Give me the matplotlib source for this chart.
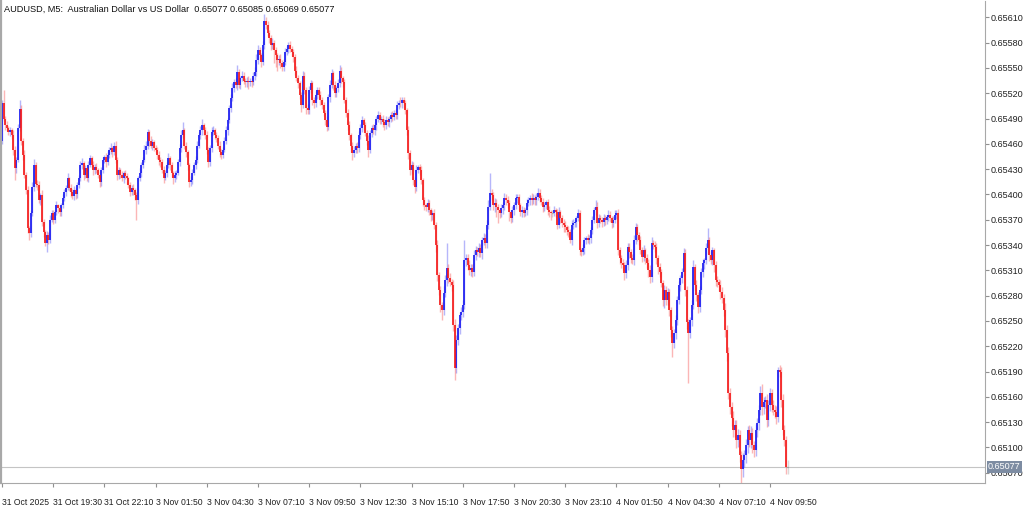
import numpy as np
import matplotlib.pyplot as plt

plt.rcParams['font.family'] = ['Liberation Sans', 'DejaVu Sans']

title = "AUDUSD, M5:  Australian Dollar vs US Dollar  0.65077 0.65085 0.65069 0.65077"

# prices are stored as points above 0.65000 (1 point = 0.00001)
base = 0.65
first_open = 464
closes = [
    508, 490, 482, 479, 474, 476, 470, 453, 431, 441, 479, 501, 464, 447, 423, 405, 360, 354, 378, 409, 435, 413, 411, 393, 399, 367, 355, 342, 352, 346, 370, 378,
    370, 379, 387, 384, 379, 387, 396, 403, 408, 419, 408, 403, 398, 405, 400, 411, 420, 435, 437, 423, 431, 420, 435, 443, 435, 429, 433, 429, 423, 415, 429, 441,
    444, 438, 447, 453, 455, 450, 458, 441, 423, 429, 423, 419, 425, 422, 419, 411, 403, 408, 405, 399, 393, 419, 426, 435, 441, 453, 458, 474, 464, 458, 462, 455,
    453, 447, 441, 438, 429, 420, 426, 435, 443, 435, 426, 419, 423, 426, 438, 455, 470, 476, 458, 450, 435, 415, 417, 426, 435, 441, 458, 470, 476, 482, 476, 470,
    453, 438, 455, 474, 476, 470, 467, 458, 450, 447, 453, 464, 476, 488, 502, 514, 526, 533, 530, 545, 530, 538, 541, 535, 533, 535, 533, 535, 533, 540, 545, 559,
    571, 565, 557, 577, 606, 601, 592, 585, 577, 580, 571, 565, 559, 561, 556, 551, 557, 569, 573, 577, 573, 569, 563, 547, 538, 532, 518, 506, 541, 524, 502, 500,
    524, 532, 512, 508, 518, 524, 518, 512, 506, 497, 488, 480, 515, 530, 544, 530, 520, 526, 532, 547, 538, 533, 512, 497, 482, 470, 458, 449, 453, 458, 455, 470,
    479, 488, 482, 473, 464, 453, 473, 479, 476, 482, 490, 494, 488, 490, 486, 482, 488, 486, 490, 494, 492, 497, 494, 506, 509, 508, 512, 508, 500, 476, 449, 429,
    435, 417, 409, 429, 432, 429, 417, 393, 387, 385, 390, 381, 376, 378, 364, 340, 304, 287, 269, 263, 283, 299, 313, 301, 296, 293, 245, 194, 227, 242, 257, 261,
    269, 322, 325, 316, 310, 313, 308, 328, 334, 332, 336, 331, 346, 348, 342, 364, 385, 402, 399, 387, 390, 385, 381, 378, 384, 387, 396, 393, 390, 379, 372, 381,
    387, 396, 397, 387, 379, 381, 378, 381, 390, 393, 396, 393, 396, 393, 397, 402, 396, 391, 385, 387, 391, 381, 379, 378, 378, 381, 379, 364, 379, 372, 366, 364,
    361, 358, 355, 346, 364, 366, 367, 372, 378, 334, 332, 336, 346, 348, 346, 348, 358, 370, 381, 385, 366, 372, 370, 367, 372, 370, 373, 376, 372, 366, 370, 376,
    378, 334, 325, 319, 316, 307, 316, 338, 332, 325, 322, 346, 361, 352, 346, 334, 326, 334, 325, 319, 310, 302, 342, 340, 338, 325, 314, 308, 295, 275, 287, 275,
    284, 263, 239, 224, 236, 251, 275, 293, 301, 308, 331, 287, 249, 236, 251, 269, 314, 293, 281, 267, 287, 308, 319, 322, 336, 346, 328, 322, 334, 316, 299, 296,
    293, 284, 277, 263, 239, 212, 165, 148, 135, 121, 127, 109, 115, 91, 74, 85, 91, 103, 121, 109, 117, 103, 97, 121, 129, 145, 165, 148, 154, 156, 133, 150,
    165, 150, 145, 142, 136, 192, 190, 156, 121, 109, 77, 77,
]
wick_up = [
    4, 16, 3, 5, 2, 4, 3, 6, 5, 3, 4, 11, 5, 3, 6, 4, 5, 3, 4, 6, 7, 3, 4, 5, 3, 6, 4, 3, 5, 4, 6, 3,
    4, 3, 5, 2, 4, 3, 5, 4, 3, 6, 2, 4, 3, 5, 3, 4, 3, 5, 6, 3, 4, 2, 5, 4, 3, 5, 3, 4, 2, 5, 3, 4,
    3, 5, 4, 3, 6, 3, 4, 5, 3, 4, 2, 5, 3, 4, 3, 2, 4, 3, 5, 3, 4, 3, 5, 4, 3, 6, 5, 4, 3, 5, 4, 3,
    4, 3, 5, 3, 4, 5, 3, 4, 6, 3, 4, 2, 5, 3, 4, 5, 6, 10, 3, 4, 3, 2, 5, 4, 3, 5, 6, 4, 5, 8, 3, 4,
    5, 3, 4, 6, 5, 3, 4, 3, 5, 4, 3, 4, 5, 3, 4, 5, 6, 4, 5, 8, 4, 3, 5, 4, 3, 4, 5, 3, 4, 5, 6, 7,
    6, 4, 3, 5, 8, 4, 5, 3, 4, 5, 3, 4, 3, 4, 5, 3, 4, 5, 3, 4, 5, 3, 4, 3, 5, 4, 3, 4, 6, 4, 3, 5,
    5, 4, 3, 4, 5, 3, 4, 5, 3, 4, 3, 5, 4, 6, 5, 3, 4, 3, 5, 6, 4, 3, 4, 3, 4, 5, 3, 4, 5, 3, 4, 5,
    4, 5, 3, 4, 3, 6, 4, 3, 5, 4, 3, 5, 4, 3, 4, 3, 5, 4, 3, 4, 5, 3, 4, 5, 3, 6, 4, 3, 4, 3, 5, 4,
    5, 3, 4, 6, 3, 4, 5, 3, 4, 3, 5, 4, 3, 4, 5, 3, 6, 4, 5, 3, 8, 6, 30, 5, 6, 4, 5, 7, 6, 5, 4, 6,
    6, 24, 5, 4, 6, 5, 4, 6, 5, 4, 6, 5, 4, 6, 5, 6, 8, 24, 5, 4, 6, 5, 4, 3, 5, 4, 6, 4, 5, 4, 3, 5,
    4, 5, 3, 4, 3, 5, 4, 3, 5, 4, 3, 6, 4, 3, 5, 6, 4, 3, 5, 4, 3, 4, 5, 3, 4, 5, 3, 4, 6, 3, 4, 5,
    4, 3, 5, 4, 6, 5, 4, 3, 5, 4, 3, 5, 4, 3, 5, 4, 3, 5, 4, 8, 6, 5, 4, 3, 5, 4, 3, 5, 4, 3, 4, 5,
    4, 5, 4, 3, 5, 4, 6, 5, 4, 3, 5, 6, 5, 4, 3, 5, 4, 6, 3, 4, 5, 6, 8, 4, 5, 4, 3, 5, 4, 3, 6, 4,
    5, 4, 3, 5, 4, 6, 5, 4, 3, 5, 6, 4, 5, 3, 4, 6, 8, 4, 5, 3, 4, 5, 4, 3, 6, 14, 4, 5, 4, 3, 5, 4,
    4, 5, 6, 5, 8, 6, 7, 5, 6, 8, 6, 5, 7, 6, 5, 8, 6, 7, 5, 6, 8, 6, 5, 7, 6, 5, 8, 10, 6, 5, 7, 6,
    5, 4, 6, 5, 7, 4, 6, 5, 8, 6, 5, 8,
]
wick_dn = [
    4, 3, 5, 4, 3, 5, 4, 6, 14, 5, 3, 4, 5, 6, 4, 5, 6, 8, 4, 3, 5, 4, 6, 3, 5, 4, 6, 3, 10, 5, 4, 3,
    5, 4, 3, 6, 4, 5, 3, 4, 5, 3, 4, 6, 3, 4, 5, 4, 3, 4, 5, 6, 3, 4, 5, 3, 4, 6, 5, 3, 4, 6, 5, 3,
    4, 5, 3, 4, 5, 6, 3, 4, 6, 5, 4, 3, 5, 4, 6, 3, 5, 4, 6, 5, 23, 4, 3, 5, 4, 3, 5, 4, 6, 3, 5, 4,
    4, 5, 6, 5, 4, 6, 3, 5, 4, 6, 5, 7, 4, 5, 3, 4, 5, 3, 4, 5, 6, 6, 5, 4, 3, 5, 4, 3, 4, 5, 6, 4,
    5, 6, 4, 5, 3, 4, 5, 4, 6, 5, 4, 3, 4, 5, 3, 4, 3, 5, 4, 6, 4, 5, 3, 4, 6, 5, 8, 4, 5, 3, 4, 5,
    4, 5, 6, 3, 4, 5, 4, 5, 6, 5, 15, 14, 12, 5, 6, 4, 5, 3, 4, 5, 4, 5, 6, 5, 4, 6, 5, 8, 4, 5, 6, 4,
    5, 4, 6, 5, 4, 5, 4, 6, 5, 4, 6, 5, 4, 5, 4, 6, 5, 4, 5, 4, 6, 5, 4, 5, 6, 5, 8, 8, 5, 4, 6, 5,
    4, 5, 6, 4, 5, 8, 4, 5, 4, 6, 5, 4, 5, 4, 6, 5, 4, 5, 6, 4, 5, 4, 5, 4, 5, 4, 6, 5, 4, 6, 7, 6,
    5, 6, 7, 5, 4, 6, 5, 7, 6, 5, 6, 5, 7, 6, 5, 8, 7, 6, 8, 12, 6, 5, 7, 6, 5, 8, 7, 14, 6, 5, 7, 6,
    6, 5, 7, 6, 5, 7, 6, 5, 6, 5, 6, 5, 7, 6, 5, 6, 5, 4, 6, 5, 8, 12, 15, 6, 5, 7, 6, 5, 6, 10, 6, 5,
    5, 4, 6, 5, 4, 6, 5, 4, 5, 4, 6, 5, 4, 5, 6, 4, 5, 4, 6, 5, 4, 5, 6, 8, 5, 4, 6, 5, 4, 6, 5, 8,
    5, 6, 5, 4, 6, 5, 4, 5, 4, 6, 5, 4, 6, 5, 4, 5, 6, 5, 4, 5, 6, 5, 4, 5, 4, 6, 5, 4, 5, 6, 5, 4,
    5, 6, 7, 6, 5, 8, 6, 5, 7, 6, 5, 6, 5, 7, 6, 5, 6, 5, 7, 6, 8, 7, 6, 5, 6, 7, 8, 6, 5, 7, 10, 6,
    6, 7, 8, 17, 6, 7, 6, 5, 7, 6, 5, 7, 8, 59, 6, 7, 5, 6, 7, 8, 6, 5, 6, 7, 5, 6, 7, 5, 6, 8, 7, 6,
    7, 8, 6, 7, 8, 9, 7, 8, 10, 9, 8, 10, 9, 8, 21, 9, 8, 10, 9, 8, 10, 9, 8, 7, 9, 8, 7, 9, 8, 7, 9, 8,
    7, 8, 6, 7, 8, 6, 7, 8, 6, 7, 8, 8,
]
x_labels = ['31 Oct 2025', '31 Oct 19:30', '31 Oct 22:10', '3 Nov 01:50', '3 Nov 04:30',
            '3 Nov 07:10', '3 Nov 09:50', '3 Nov 12:30', '3 Nov 15:10', '3 Nov 17:50',
            '3 Nov 20:30', '3 Nov 23:10', '4 Nov 01:50', '4 Nov 04:30', '4 Nov 07:10',
            '4 Nov 09:50']
bars_per_label = 32
y_ticks = [0.65070, 0.65100, 0.65130, 0.65160, 0.65190, 0.65220, 0.65250, 0.65280,
           0.65310, 0.65340, 0.65370, 0.65400, 0.65430, 0.65460, 0.65490, 0.65520,
           0.65550, 0.65580, 0.65610]
last_price = 0.65077

c = np.array(closes)
o = np.r_[first_open, c[:-1]]
hi = (np.maximum(o, c) + np.array(wick_up)) / 1e5 + base
lo = (np.minimum(o, c) - np.array(wick_dn)) / 1e5 + base
cp = c / 1e5 + base
op = o / 1e5 + base
idx = np.arange(len(c))

bull = c > o
bear = c < o
flat = c == o
blue = '#1c1cf0'
red = '#f41c1c'
gray = '#8c8c8c'

fig = plt.figure(figsize=(10.24, 5.11), dpi=100)
ax = fig.add_axes([0.001, 0.055, 0.961, 0.944])

for m, col in [(bull, blue), (bear, red), (flat, gray)]:
    ax.vlines(idx[m], lo[m], hi[m], color=col, alpha=0.32, lw=1.0)
for m, col in [(bull, blue), (bear, red)]:
    ax.vlines(idx[m], op[m], cp[m], color=col, lw=1.25)
ax.hlines(cp[flat], idx[flat] - 0.35, idx[flat] + 0.35, color=gray, lw=0.9)

ax.axhline(last_price, color='#c4c4c4', lw=0.8, zorder=0)

ax.set_xlim(-0.625, 614.4)
ax.set_ylim(0.65058, 0.65630)

ax.set_xticks([k * bars_per_label for k in range(len(x_labels))])
ax.set_xticklabels(x_labels, ha='left')
ax.tick_params(axis='x', length=3, pad=8, labelsize=6.2, color='#909090', labelcolor='#202020')
for lab in ax.get_xticklabels():
    lab.set_x(lab.get_position()[0])

ax.yaxis.tick_right()
ax.set_yticks(y_ticks)
ax.set_yticklabels([f'{v:.5f}' for v in y_ticks])
ax.tick_params(axis='y', length=3, pad=1, labelsize=6.5, color='#909090', labelcolor='#202020')

ax.text(1.003, last_price, f'{last_price:.5f}', transform=ax.get_yaxis_transform(),
        va='center', ha='left', fontsize=6.5, color='white',
        bbox=dict(boxstyle='square,pad=0.15', fc='#7d8ca2', ec='none'), clip_on=False)

ax.text(0.003, 0.992, title, transform=ax.transAxes, fontsize=6.6, va='top', ha='left',
        color='#101010')

for s in ['left', 'right', 'bottom']:
    ax.spines[s].set_color('#a8a8a8')
ax.spines['left'].set_linewidth(1.6)
ax.spines['top'].set_visible(False)

fig.savefig('out.png', dpi=100)
